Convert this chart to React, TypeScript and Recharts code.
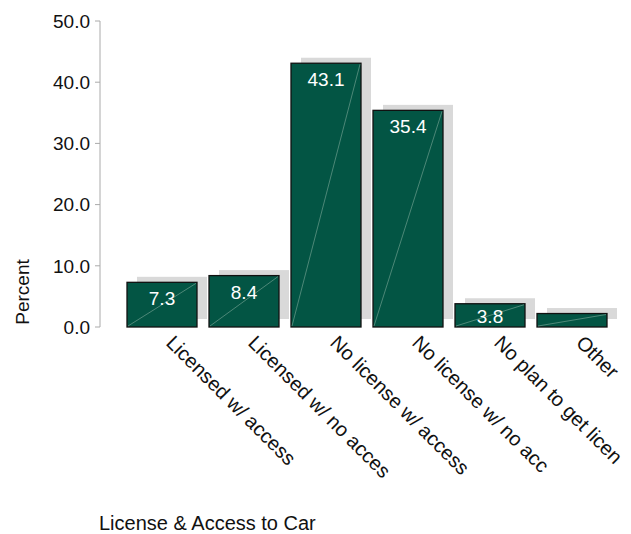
import { BarChart, Bar, XAxis, YAxis, LabelList } from 'recharts';

const categories = [
  'Licensed w/ access',
  'Licensed w/ no acces',
  'No license w/ access',
  'No license w/ no acc',
  'No plan to get licen',
  'Other',
];
const percents = [7.3, 8.4, 43.1, 35.4, 3.8, 2.2];
const yTicks = [0, 10, 20, 30, 40, 50];

const data = categories.map((name, i) => ({ name, value: percents[i] }));

const FONT = '"Liberation Sans", Arial, sans-serif';
const FILL = '#035544';

function ShadowBar(props: any) {
  const { x, y, width, height } = props;
  if (width == null || height == null) return null;
  return (
    <g>
      <rect x={x + 10} y={y - 5.5} width={width} height={height - 2.5} fill="#d9d9d9" />
      <rect x={x} y={y} width={width} height={height} fill={FILL} stroke="#111" strokeWidth={1.3} />
      <line
        x1={x + 1}
        y1={y + height - 1}
        x2={x + width - 1}
        y2={y + 1}
        stroke="#7fa99b"
        strokeWidth={0.6}
      />
    </g>
  );
}

function ValueLabel(props: any) {
  const { x, y, width, height, value } = props;
  if (value < 3) return null;
  const mid = Math.min(y + 16, y + height / 2 + 1);
  return (
    <text x={x + width / 2} y={mid + 7} fill="#fff" fontSize={19} fontFamily={FONT} textAnchor="middle">
      {value.toFixed(1)}
    </text>
  );
}

function AngledTick(props: any) {
  const { x, y, payload } = props;
  const ax = x + 3;
  const ay = y + 9;
  return (
    <text
      x={ax}
      y={ay}
      transform={`rotate(45 ${ax} ${ay})`}
      fill="#111"
      fontSize={20}
      fontFamily={FONT}
      textAnchor="start"
    >
      {payload.value}
    </text>
  );
}

export default function App() {
  return (
    <div style={{ position: 'absolute', left: 0, top: 0, width: 631, height: 534, background: '#fff' }}>
      <BarChart
        width={631}
        height={534}
        data={data}
        margin={{ top: 21, right: 18, bottom: 0, left: 0 }}
        barCategoryGap={6}
      >
        <XAxis
          dataKey="name"
          axisLine={false}
          tickLine={false}
          interval={0}
          height={207}
          padding={{ left: 21, right: 0 }}
          tick={<AngledTick />}
          label={{
            content: (p: any) => (
              <text
                x={p.viewBox.x - 1}
                y={p.viewBox.y + p.viewBox.height - 4}
                fill="#111"
                fontSize={20}
                fontFamily={FONT}
              >
                License &amp; Access to Car
              </text>
            ),
          }}
        />
        <YAxis
          width={100}
          domain={[0, 50]}
          ticks={yTicks}
          tickFormatter={(v: number) => v.toFixed(1)}
          stroke="#aaaaaa"
          tickSize={5}
          tickMargin={5}
          tick={{ fill: '#111', fontSize: 19, fontFamily: FONT }}
          label={{
            content: () => (
              <text
                x={29}
                y={292}
                transform="rotate(-90 29 292)"
                fill="#111"
                fontSize={19}
                fontFamily={FONT}
                textAnchor="middle"
              >
                Percent
              </text>
            ),
          }}
        />
        <Bar dataKey="value" shape={<ShadowBar />} isAnimationActive={false}>
          <LabelList dataKey="value" content={<ValueLabel />} />
        </Bar>
      </BarChart>
    </div>
  );
}
